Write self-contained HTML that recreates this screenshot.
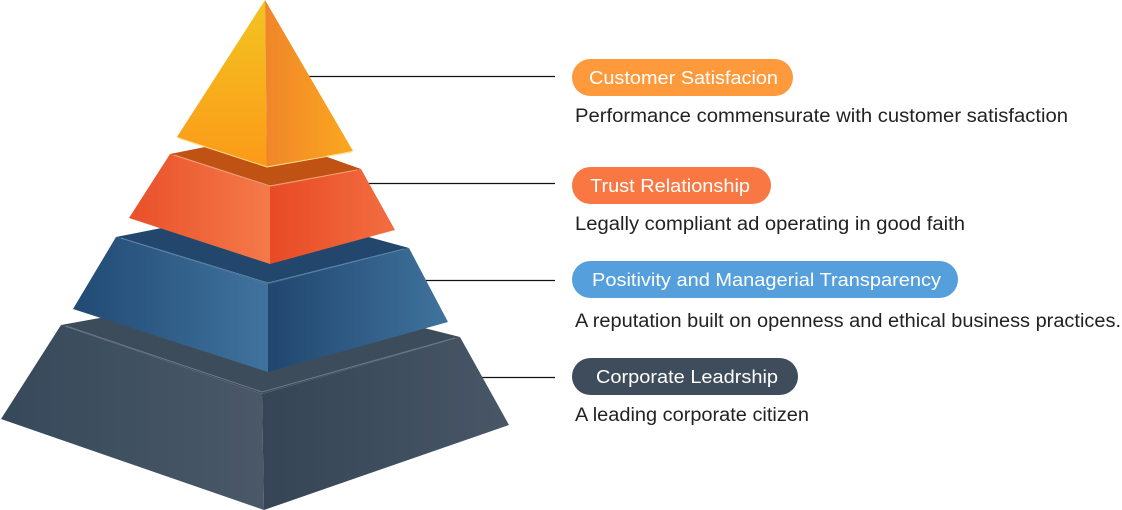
<!DOCTYPE html>
<html><head><meta charset="utf-8"><style>
html,body{margin:0;padding:0;background:#fff;width:1122px;height:510px;overflow:hidden}
svg{display:block}
text{font-family:"Liberation Sans",sans-serif}
</style></head><body>
<svg width="1122" height="510" viewBox="0 0 1122 510" xmlns="http://www.w3.org/2000/svg">
<defs>
<linearGradient id="gL" x1="0" x2="1"><stop offset="0" stop-color="#36495a"/><stop offset="1" stop-color="#4a5868"/></linearGradient>
<linearGradient id="gR" x1="0" x2="1"><stop offset="0" stop-color="#354555"/><stop offset="1" stop-color="#485666"/></linearGradient>
<linearGradient id="bL" x1="0" x2="1"><stop offset="0" stop-color="#214a74"/><stop offset="1" stop-color="#3f739e"/></linearGradient>
<linearGradient id="bR" x1="0" x2="1"><stop offset="0" stop-color="#21466f"/><stop offset="1" stop-color="#3f739d"/></linearGradient>
<linearGradient id="oL" x1="0" x2="1"><stop offset="0" stop-color="#e9502a"/><stop offset="1" stop-color="#f47a4a"/></linearGradient>
<linearGradient id="oR" x1="0" x2="1"><stop offset="0" stop-color="#e84a25"/><stop offset="1" stop-color="#f26e40"/></linearGradient>
<linearGradient id="yL" x1="0" y1="0" x2="0" y2="1"><stop offset="0" stop-color="#f2c421"/><stop offset="1" stop-color="#fc9a18"/></linearGradient>
<linearGradient id="yR" x1="0" x2="1"><stop offset="0" stop-color="#f0852a"/><stop offset="1" stop-color="#fba81e"/></linearGradient>
</defs>
<!-- connectors -->
<g stroke="#111" stroke-width="1.3">
<line x1="300" y1="76.5" x2="555" y2="76.5"/>
<line x1="362" y1="183.5" x2="555" y2="183.5"/>
<line x1="420" y1="280.5" x2="555" y2="280.5"/>
<line x1="475" y1="377.5" x2="555" y2="377.5"/>
</g>
<!-- bottom tier -->
<polygon points="61,325 265,288 460,337 262,394" fill="#3d4c5b"/>
<polygon points="61,325 262,394 264,510 1,419" fill="url(#gL)"/>
<polygon points="262,394 460,337 509,425 264,510" fill="url(#gR)"/>
<polyline points="66,326 262,392 455,338" fill="none" stroke="#6a7888" stroke-width="1"/>
<!-- blue tier -->
<polygon points="116,237 262,208 409,248 268,284" fill="#23476c"/>
<polygon points="116,237 268,284 268,372 73,309" fill="url(#bL)"/>
<polygon points="268,284 409,248 448,322 268,372" fill="url(#bR)"/>
<polyline points="121,238 268,283 404,249" fill="none" stroke="#5a86ad" stroke-width="1"/>
<!-- orange tier -->
<polygon points="170,154 265,135 361,169 270,187" fill="#c05314"/>
<polygon points="170,154 270,187 270,264 129,218" fill="url(#oL)"/>
<polygon points="270,187 361,169 395,230 270,264" fill="url(#oR)"/>
<polyline points="174,155 270,186 357,170" fill="none" stroke="#f7a27a" stroke-width="1"/>
<!-- top -->
<polygon points="265,0 177,137 267,167" fill="url(#yL)"/>
<polygon points="265,0 267,167 353,151" fill="url(#yR)"/>
<polyline points="178,138 267,167 352,152" fill="none" stroke="#ffe08a" stroke-width="1"/>
<!-- pills -->
<rect x="572" y="59" width="221" height="37" rx="18.5" fill="#fe9a3c"/>
<rect x="572" y="167" width="199" height="37" rx="18.5" fill="#f97742"/>
<rect x="572" y="261" width="386" height="37" rx="18.5" fill="#559fdc"/>
<rect x="572" y="358" width="226" height="37" rx="18.5" fill="#3e4c5c"/>
<g fill="#fff" font-size="18">
<text x="589" y="84" textLength="189" lengthAdjust="spacingAndGlyphs">Customer Satisfacion</text>
<text x="590" y="192" textLength="160" lengthAdjust="spacingAndGlyphs">Trust Relationship</text>
<text x="592" y="286" textLength="349" lengthAdjust="spacingAndGlyphs">Positivity and Managerial Transparency</text>
<text x="596" y="383" textLength="182" lengthAdjust="spacingAndGlyphs">Corporate Leadrship</text>
</g>
<g fill="#222" font-size="19">
<text x="575" y="122" textLength="493" lengthAdjust="spacingAndGlyphs">Performance commensurate with customer satisfaction</text>
<text x="575" y="230" textLength="390" lengthAdjust="spacingAndGlyphs">Legally compliant ad operating in good faith</text>
<text x="575" y="327" textLength="546" lengthAdjust="spacingAndGlyphs">A reputation built on openness and ethical business practices.</text>
<text x="575" y="421" textLength="234" lengthAdjust="spacingAndGlyphs">A leading corporate citizen</text>
</g>
</svg>
</body></html>
